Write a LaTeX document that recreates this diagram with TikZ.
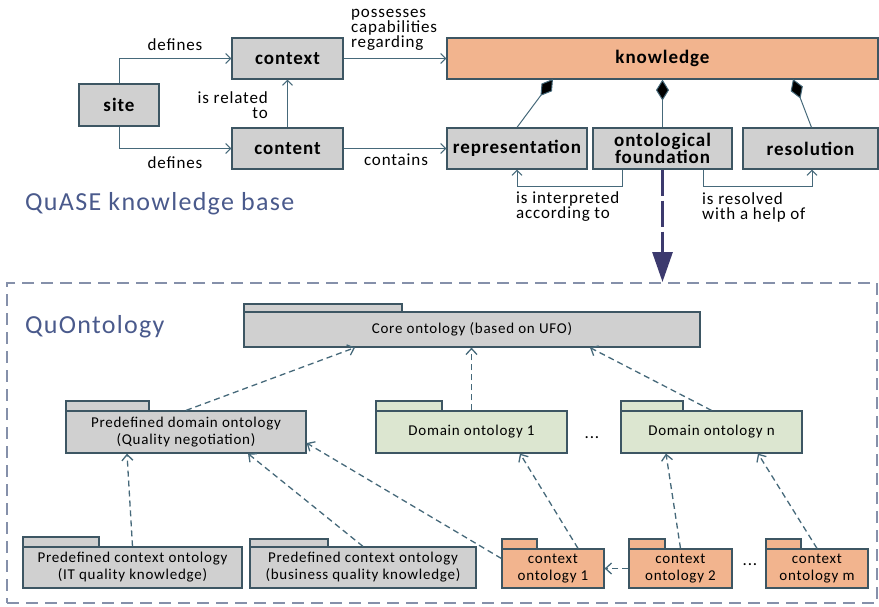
\documentclass[tikz,border=0pt]{standalone}
\usepackage{fontspec}
\setmainfont{Carlito}[LetterSpace=5]
\usepackage{tikz}
\usetikzlibrary{arrows.meta}
\definecolor{quBorder}{HTML}{3D5663}
\definecolor{quLine}{HTML}{46697A}
\definecolor{quGray}{HTML}{D0D0D0}
\definecolor{quOrange}{HTML}{F2B48E}
\definecolor{quGreen}{HTML}{DCE6D0}
\definecolor{quTitle}{HTML}{4A5A8C}
\definecolor{quNavy}{HTML}{3C3A6E}
\definecolor{quFrame}{HTML}{8590AA}

\begin{document}
\begin{tikzpicture}[x=1pt, y=-1pt,
  box/.style={draw=quBorder, line width=1.2pt, fill=quGray, inner sep=0pt,
    font=\bfseries\fontsize{19}{16}\selectfont},
  pkg/.style={draw=quBorder, line width=1.2pt, fill=quGray, inner sep=0pt,
    align=center, font=\fontsize{15}{17}\selectfont},
  rel/.style={draw=quLine, line width=1pt, -{Straight Barb[length=5pt,width=10pt]}},
  dep/.style={draw=quLine, line width=1.3pt, dash pattern=on 6pt off 4pt,
    -{Straight Barb[length=6pt,width=11pt]}},
  comp/.style={draw=quLine, line width=1pt, -{Diamond[length=21pt,width=13pt,fill=black]}},
  lbl/.style={inner sep=0pt, font=\fontsize{17}{15}\selectfont},
  title/.style={anchor=west, inner sep=0pt, text=quTitle, font=\fontsize{26}{26}\selectfont}]
  \useasboundingbox (0,0) rectangle (879,606);

  % QuASE knowledge base
  \node[box, minimum width=80, minimum height=42] (site) at (119,105) {site};
  \node[box, minimum width=111, minimum height=41] (context) at (287.5,58.5) {context};
  \node[box, minimum width=111, minimum height=41] (content) at (287.5,148.5) {content};
  \node[box, fill=quOrange, minimum width=431, minimum height=41] (knowledge) at (662.5,58.5) {knowledge};
  \node[box, minimum width=140, minimum height=41] (representation) at (517,148.5) {representation};
  \node[box, minimum width=139, minimum height=41, align=center] (ontfound) at (662.5,148.5) {ontological\\foundation};
  \node[box, minimum width=135, minimum height=41] (resolution) at (810.5,148.5) {resolution};
  \node[title] (quase) at (25,204) {QuASE knowledge base};

  \draw[rel] (site.north) |- (context.west);
  \draw[rel] (site.south) |- (content.west);
  \draw[rel] (content.north) -- (context.south);
  \draw[rel] (context.east) -- (knowledge.west);
  \draw[rel] (content.east) -- (representation.west);
  \node[lbl] (defA) at (175,45) {defines};
  \node[lbl] (defB) at (175,163) {defines};
  \node[lbl, anchor=east, align=right] (relto) at (268,105) {is related\\to};
  \node[lbl, anchor=west, align=left] (poss) at (351,30) {possesses\\capabilities\\regarding};
  \node[lbl] (cont) at (396,160) {contains};

  % composition diamonds
  \coordinate (kr) at (553,79);
  \coordinate (ks) at (793,79);
  \draw[comp] (representation.north) -- (kr);
  \draw[comp] (ontfound.north) -- (knowledge.south);
  \draw[comp] ([xshift=1pt]resolution.north) -- (ks);

  \draw[rel] ([xshift=-40.5pt]ontfound.south) -- ++(0,17) -| (representation.south);
  \draw[rel] ([xshift=40.5pt]ontfound.south) -- ++(0,17) -| ([xshift=1.5pt]resolution.south);
  \node[lbl, anchor=west, align=left] (interp) at (516,207) {is interpreted\\according to};
  \node[lbl, anchor=west, align=left] (resolv) at (702,207) {is resolved\\with a help of};

  % QuOntology frame
  \node[draw=quFrame, line width=2pt, dash pattern=on 12pt off 7pt, inner sep=0pt,
    minimum width=870, minimum height=320] (quonto) at (442,443) {};
  \node[title] (quotitle) at (25,327) {QuOntology};
  \draw[draw=quNavy, line width=3pt, dash pattern=on 26pt off 5pt,
    -{Triangle[length=30pt,width=20pt]}] (ontfound.south) -- (ontfound.south |- quonto.north);

  % packages
  \draw[pkg] (244,304) rectangle (402,312);
  \node[pkg, minimum width=456, minimum height=35] (core) at (472,329.5) {Core ontology (based on UFO)};
  \draw[pkg] (66,401) rectangle (149,411);
  \node[pkg, minimum width=240, minimum height=42] (pdo) at (186,432) {Predefined domain ontology\\(Quality negotiation)};
  \draw[pkg, fill=quGreen] (376,401) rectangle (442,411);
  \node[pkg, fill=quGreen, minimum width=191, minimum height=42] (dom1) at (471.5,432) {Domain ontology 1};
  \draw[pkg, fill=quGreen] (621,401) rectangle (683,411);
  \node[pkg, fill=quGreen, minimum width=181, minimum height=42] (domn) at (711.5,432) {Domain ontology n};
  \node[lbl] (dotsA) at (592,438) {...};

  \draw[pkg] (23,537) rectangle (99,547);
  \node[pkg, minimum width=219, minimum height=41] (pcoit) at (132.5,567.5) {Predefined context ontology\\(IT quality knowledge)};
  \draw[pkg] (250,539) rectangle (328,547);
  \node[pkg, minimum width=226, minimum height=41] (pcobus) at (363,567.5) {Predefined context ontology\\(business quality knowledge)};
  \draw[pkg, fill=quOrange] (502,539) rectangle (537,549);
  \node[pkg, fill=quOrange, minimum width=102, minimum height=39] (ctx1) at (553,568.5) {context\\ontology 1};
  \draw[pkg, fill=quOrange] (629,539) rectangle (665,549);
  \node[pkg, fill=quOrange, minimum width=103, minimum height=39] (ctx2) at (680.5,568.5) {context\\ontology 2};
  \draw[pkg, fill=quOrange] (766,539) rectangle (801,549);
  \node[pkg, fill=quOrange, minimum width=102, minimum height=39] (ctxm) at (817,568.5) {context\\ontology m};
  \node[lbl] (dotsB) at (750,565) {...};

  % dependencies
  \draw[dep] (pdo.north) -- ([xshift=-117pt]core.south);
  \draw[dep] (dom1.north) -- (dom1.north |- core.south);
  \draw[dep] (domn.north) -- ([xshift=118pt]core.south);
  \draw[dep] (pcoit.north) -- ([xshift=-59pt]pdo.south);
  \draw[dep] (pcobus.north) -- ([xshift=62pt]pdo.south);
  \draw[dep] ([yshift=10pt]ctx1.west) -- ([yshift=-11pt]pdo.east);
  \draw[dep] ([xshift=25pt]ctx1.north) -- ([xshift=48.5pt]dom1.south);
  \draw[dep] (ctx2.west) -- (ctx1.east);
  \draw[dep] (ctx2.north) -- ([xshift=-45.5pt]domn.south);
  \draw[dep] (ctxm.north) -- ([xshift=46.5pt]domn.south);
\end{tikzpicture}
\end{document}
